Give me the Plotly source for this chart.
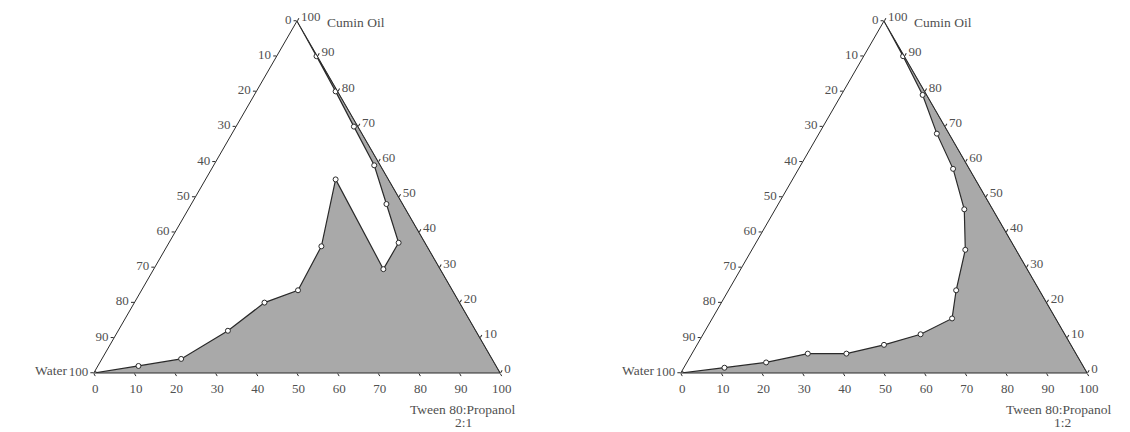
import plotly.graph_objects as go

# ---------------- data ----------------
tick_vals = [0, 10, 20, 30, 40, 50, 60, 70, 80, 90, 100]
tick_labels = [str(100 - v) for v in tick_vals]   # each edge counts from the opposite end

# Diagram 1 : Tween 80:Propanol 2:1  (percent)
oil_1 = [0, 2, 4, 12, 20, 23.5, 36, 55, 29.5, 37, 48, 59, 70, 80, 90]
tween_1 = [0, 10, 19.5, 27, 32, 38.5, 38, 32, 56.5, 56.5, 48, 39.5, 29, 19.5, 9.8]
water_1 = [100, 88, 76.5, 61, 48, 38, 26, 13, 14, 6.5, 4, 1.5, 1, 0.5, 0.2]

# Diagram 2 : Tween 80:Propanol 1:2  (percent)
oil_2 = [0, 1.5, 3, 5.5, 5.5, 8, 11, 15.5, 23.5, 35, 46.5, 58, 68, 79, 90]
tween_2 = [0, 10, 19.5, 28.5, 38, 46, 53.5, 59, 56, 52.5, 46.5, 38, 29, 20, 9.7]
water_2 = [100, 88.5, 77.5, 66, 56.5, 46, 35.5, 25.5, 20.5, 12.5, 7, 4, 3, 1, 0.3]

# region corners that close the shaded area (pure oil, pure surfactant mix)
corner_oil = [100, 0]
corner_water = [0, 0]
corner_tween = [0, 100]

FONT = "Liberation Serif"
TXT = "#505050"
LINE = "#2a2a2a"
FILL = "#a9a9a9"

fig = go.Figure()

def add_diagram(oil, water, tween, subplot):
    fig.add_trace(go.Scatterternary(
        a=oil + corner_oil, b=water + corner_water, c=tween + corner_tween,
        mode="lines", fill="toself", fillcolor=FILL,
        line=dict(color=LINE, width=1.2), hoverinfo="skip",
        showlegend=False, subplot=subplot))
    fig.add_trace(go.Scatterternary(
        a=oil, b=water, c=tween, mode="markers",
        marker=dict(symbol="circle", size=5, color="white",
                    line=dict(color=LINE, width=1)),
        showlegend=False, subplot=subplot))

add_diagram(oil_1, water_1, tween_1, "ternary")
add_diagram(oil_2, water_2, tween_2, "ternary2")

def axis():
    return dict(
        title=dict(text=""), min=0, showgrid=False, showline=True,
        linecolor=LINE, linewidth=1, ticks="outside", ticklen=3,
        tickwidth=1, tickcolor=LINE, tickmode="array",
        tickvals=tick_vals, ticktext=tick_labels,
        tickfont=dict(family=FONT, size=13, color=TXT))

def ternary(xdom, ydom):
    return dict(sum=100, bgcolor="white", domain=dict(x=xdom, y=ydom),
                aaxis=axis(), baxis=axis(), caxis=axis())

W, H = 1130, 432
ydom = [(H - 373) / H, (H - 21) / H]
fig.update_layout(
    width=W, height=H, paper_bgcolor="white", plot_bgcolor="white",
    margin=dict(l=0, r=0, t=0, b=0),
    ternary=ternary([(297 - 226) / W, (297 + 226) / W], ydom),
    ternary2=ternary([(884 - 226) / W, (884 + 226) / W], ydom),
    font=dict(family=FONT, size=13, color=TXT),
)

def label(text, x, y, xanchor="center"):
    fig.add_annotation(text=text, x=x / W, y=1 - y / H, xref="paper", yref="paper",
                       showarrow=False, xanchor=xanchor, yanchor="middle",
                       font=dict(family=FONT, size=13.5, color=TXT))

label("Water", 69, 370, "right")
label("Cumin Oil", 325, 22, "left")
label("Tween 80:Propanol", 462, 409)
label("2:1", 463, 422)
label("Water", 656, 370, "right")
label("Cumin Oil", 912, 22, "left")
label("Tween 80:Propanol", 1058, 409)
label("1:2", 1062, 422)

fig.write_html("out.html", config={"displayModeBar": False},
               post_script="document.body.style.margin='0';")
